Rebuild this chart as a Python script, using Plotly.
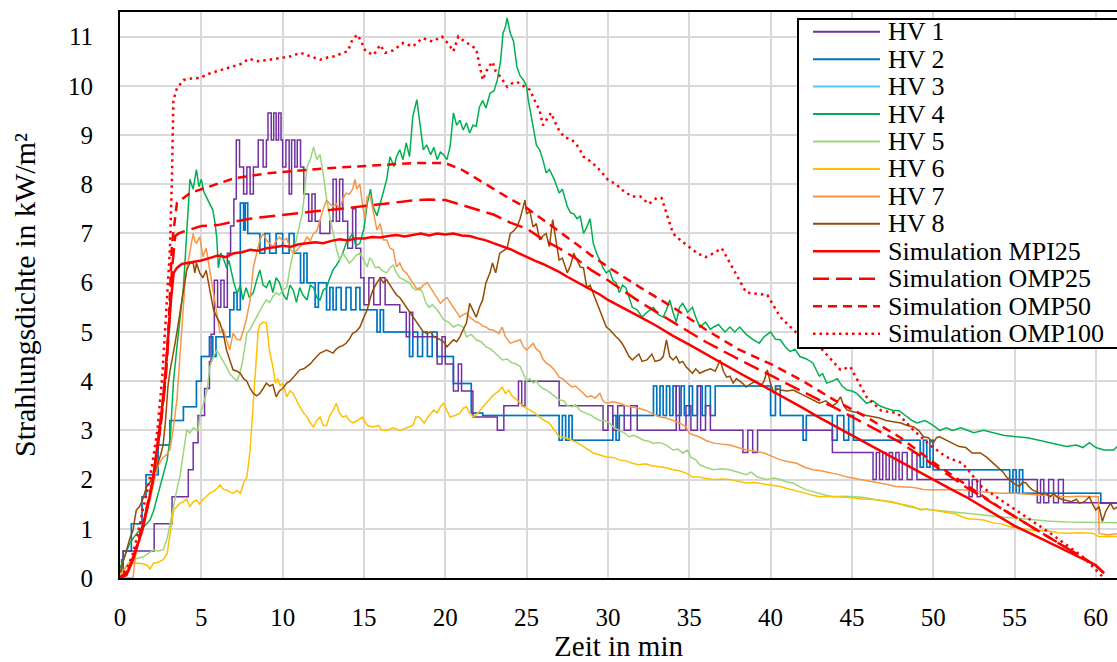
import plotly.graph_objects as go

# ---------------- data ----------------
hv1 = [(0,0.0),(0.2,0.55),(2.1,1.1),(3.2,1.65),(4.2,2.2),(4.5,2.75),(4.8,3.3),(5.2,3.85),(5.5,4.4),(5.6,4.95),
       (5.8,6.05),(6.0,5.5),(6.2,6.05),(6.4,5.5),(6.6,6.6),(6.8,7.15),(7.0,7.7),(7.15,8.9),(7.35,8.35),(7.6,7.8),
       (7.8,8.35),(8.0,7.8),(8.2,8.35),(8.5,8.9),(8.8,8.35),(9.0,8.9),(9.1,9.45),(9.3,8.9),(9.45,9.45),(9.6,8.9),
       (9.75,9.45),(9.9,8.9),(10.0,8.35),(10.2,8.9),(10.4,7.8),(10.55,8.9),(10.75,8.35),(10.9,8.9),(11.1,8.35),
       (11.3,7.8),(11.6,7.25),(11.8,7.8),(12.0,7.25),(12.3,7.0),(12.9,7.25),(13.1,8.1),(13.3,7.25),(13.5,8.1),
       (13.7,7.25),(14.0,6.7),(14.3,7.5),(14.5,6.7),(14.8,6.1),(15.0,5.55),(15.3,6.1),(15.6,5.55),(16.0,6.1),
       (16.3,5.55),(17.2,5.4),(17.6,4.9),(17.8,5.4),(18.0,4.9),(19.5,4.35),(19.8,4.9),(20.0,4.35),(20.5,3.8),
       (20.8,4.35),(21.0,3.8),(21.7,3.27),(23.2,3.0),(23.6,3.5),(24.5,4.0),(24.7,3.5),(24.9,4.0),(27.0,3.5),
       (29.7,3.0),(30.0,3.5),(30.3,3.0),(30.6,3.5),(31.0,3.0),(31.4,3.5),(31.8,3.0),(34.2,3.9),(34.4,3.0),
       (34.8,3.5),(35.1,3.0),(35.5,3.9),(35.7,3.0),(36.0,3.5),(36.3,3.0),(38.3,2.55),(38.6,3.0),(38.9,2.55),
       (39.2,3.0),(43.8,2.55),(46.3,2.0),(46.5,2.55),(46.7,2.0),(46.9,2.55),(47.1,2.0),(47.3,2.55),(47.5,2.0),
       (47.7,2.55),(47.9,2.0),(48.1,2.55),(48.4,2.0),(48.7,2.55),(49.0,2.0),(52.2,1.65),(52.4,2.0),(52.7,1.65),
       (52.9,2.0),(56.4,1.53),(56.6,2.0),(56.8,1.53),(57.1,2.0),(57.4,1.53),(57.7,2.0),(58.0,1.53),(61.5,1.53)]

hv2 = [(0,0.0),(0.1,0.37),(0.2,0.55),(0.7,1.1),(1.35,1.65),(1.6,2.1),(2.35,2.7),(3.07,3.2),(3.9,3.48),(4.7,4.0),
       (5.0,4.5),(5.5,4.9),(5.7,4.5),(5.9,4.9),(6.75,5.45),(7.0,5.8),(7.2,5.45),(7.4,7.62),(7.6,7.07),(7.7,7.62),
       (7.85,7.0),(8.6,6.6),(8.9,7.0),(9.2,6.6),(9.6,7.0),(10.0,6.6),(10.4,7.0),(10.7,6.6),(11.1,6.0),(11.3,6.6),
       (11.5,6.0),(12.0,5.5),(12.2,6.0),(12.7,5.45),(12.9,5.9),(13.1,5.45),(13.3,5.9),(13.6,5.45),(13.9,5.9),
       (14.2,5.45),(14.5,5.9),(14.75,5.45),(15.8,5.0),(16.0,5.45),(16.2,5.0),(17.8,4.5),(18.0,5.0),(18.3,4.5),
       (18.6,5.0),(18.9,4.5),(19.2,5.0),(19.5,4.5),(20.5,3.95),(21.6,3.35),(22.3,3.3),(27.0,2.8),(27.2,3.3),
       (27.4,2.8),(27.6,3.3),(27.8,2.8),(30.3,3.3),(30.5,2.8),(30.7,3.3),(32.8,3.9),(33.0,3.3),(33.2,3.9),
       (33.4,3.3),(33.6,3.9),(33.8,3.3),(34.0,3.9),(34.2,3.3),(34.5,3.9),(34.7,3.3),(35.0,3.9),(35.2,3.3),
       (35.5,3.9),(35.8,3.3),(36.0,3.9),(36.3,3.3),(36.6,3.9),(40.0,3.3),(40.3,3.9),(40.6,3.3),(42.0,2.8),
       (42.2,3.3),(43.8,2.8),(44.1,3.3),(44.5,2.8),(44.8,3.3),(45.1,2.8),(49.2,2.25),(49.4,2.8),(49.6,2.25),
       (49.8,2.8),(50.0,2.2),(54.7,1.72),(54.9,2.2),(55.1,1.72),(55.3,2.2),(55.5,1.72),(60.3,1.52),(61.5,1.52)]

hv3 = list(hv2)  # HV 3 is hidden underneath HV 2 in the reference

hv4 = [(0,0.2),(0.3,0.45),(0.6,0.7),(0.9,0.85),(1.2,0.97),(1.5,1.05),(1.85,1.18),(2.05,1.35),(2.25,1.6),(2.45,1.8),
       (2.65,2.05),(2.9,2.4),(3.1,2.9),(3.28,3.96),(3.5,4.7),(3.7,5.3),(3.9,5.9),(4.1,7.0),(4.3,8.1),(4.5,7.9),
       (4.7,8.3),(4.85,7.95),(5.0,8.1),(5.15,7.85),(5.3,7.75),(5.5,7.6),(5.7,7.48),(5.85,7.2),(5.95,6.9),(6.05,6.3),
       (6.2,6.6),(6.35,6.5),(6.55,6.3),(6.7,6.45),(6.85,6.2),(7.0,6.0),(7.2,5.78),(7.4,5.95),(7.55,5.65),(7.75,5.9),
       (7.95,5.7),(8.2,5.8),(8.4,6.05),(8.6,6.26),(8.8,5.95),(9.0,5.9),(9.2,6.05),(9.4,5.8),(9.6,6.1),(9.8,6.0),
       (10.05,5.75),(10.25,5.65),(10.45,5.95),(10.65,5.85),(10.85,5.6),(11.05,5.9),(11.25,5.75),(11.5,5.65),
       (11.7,5.95),(11.9,5.9),(12.1,5.7),(12.3,5.65),(12.5,5.85),(12.7,5.9),(12.9,6.1),(13.1,6.26),(13.3,6.35),
       (13.5,6.46),(13.7,6.6),(13.9,6.8),(14.1,6.9),(14.3,7.0),(14.5,6.75),(14.75,6.8),(15.0,7.1),(15.2,7.6),
       (15.4,7.9),(15.55,7.55),(15.8,7.36),(16.0,7.6),(16.2,7.82),(16.4,8.1),(16.6,8.56),(16.85,8.36),(17.0,8.56),
       (17.2,8.7),(17.4,8.5),(17.6,8.84),(17.8,8.56),(18.0,9.37),(18.25,9.72),(18.45,9.16),(18.65,8.7),(18.85,8.8),
       (19.1,8.6),(19.3,8.75),(19.5,8.5),(19.7,8.65),(19.9,8.6),(20.1,8.5),(20.3,8.77),(20.5,9.45),(20.7,9.2),
       (20.9,9.3),(21.1,9.1),(21.3,9.25),(21.5,9.04),(21.7,9.2),(21.9,9.18),(22.1,9.57),(22.3,9.7),(22.5,9.55),
       (22.75,9.85),(23.0,9.9),(23.2,10.12),(23.4,10.5),(23.55,11.07),(23.7,11.2),(23.8,11.38),(24.0,11.07),
       (24.2,10.9),(24.4,10.39),(24.6,10.2),(24.8,10.12),(25.0,10.0),(25.1,9.72),(25.25,9.4),(25.4,9.17),(25.6,8.8),
       (25.8,8.7),(26.0,8.5),(26.2,8.23),(26.4,8.3),(26.7,8.1),(27.0,7.82),(27.2,7.9),(27.5,7.55),(27.7,7.42),
       (27.9,7.4),(28.1,7.3),(28.3,7.35),(28.5,7.0),(28.7,7.13),(28.9,7.3),(29.1,6.8),(29.3,6.6),(29.5,6.46),
       (29.7,6.3),(29.9,6.2),(30.1,6.25),(30.3,6.05),(30.5,6.0),(30.7,5.8),(30.9,5.95),(31.1,5.9),(31.3,5.7),
       (31.5,5.5),(31.8,5.45),(32.1,5.3),(32.4,5.4),(32.8,5.5),(33.1,5.35),(33.4,5.3),(33.6,5.45),(33.8,5.65),
       (34.0,5.4),(34.2,5.2),(34.4,5.5),(34.6,5.58),(34.9,5.4),(35.2,5.5),(35.4,5.3),(35.65,5.1),(36.0,5.2),
       (36.3,5.05),(36.5,5.1),(36.8,5.15),(37.2,5.0),(37.5,5.1),(37.8,5.0),(38.1,5.1),(38.5,4.95),(38.9,4.85),
       (39.3,4.77),(39.6,4.9),(40.0,5.0),(40.3,4.85),(40.6,4.84),(40.9,4.7),(41.2,4.6),(41.5,4.65),(41.8,4.5),
       (42.2,4.45),(42.6,4.37),(42.8,4.25),(43.0,4.1),(43.2,4.15),(43.45,3.96),(43.8,4.0),(44.1,4.05),(44.4,3.9),
       (44.7,3.82),(45.0,3.8),(45.3,3.75),(45.6,3.65),(45.9,3.55),(46.3,3.6),(46.7,3.5),(47.1,3.45),(47.5,3.41),
       (47.9,3.4),(48.3,3.3),(48.7,3.2),(49.0,3.15),(49.5,3.2),(50.0,3.1),(50.4,3.0),(50.8,3.05),(51.2,3.0),
       (51.7,3.05),(52.1,3.0),(52.5,2.95),(53.1,3.0),(53.7,2.95),(54.3,2.9),(55.1,2.87),(55.8,2.85),(56.5,2.8),
       (57.2,2.75),(57.7,2.7),(58.2,2.67),(58.8,2.7),(59.2,2.65),(59.6,2.75),(60.0,2.65),(60.5,2.6),(61.1,2.6),(61.4,2.7)]

hv5 = [(0,0.0),(0.1,0.1),(0.5,0.3),(0.8,0.37),(1.1,0.4),(1.43,0.43),(1.75,0.5),(2.05,0.57),(2.35,0.55),(2.65,0.57),
       (2.9,0.8),(3.07,1.1),(3.3,1.45),(3.5,1.8),(3.7,2.1),(3.9,2.6),(4.1,3.0),(4.3,2.95),(4.5,3.05),(4.8,3.0),
       (4.9,3.27),(5.1,3.5),(5.35,3.82),(5.53,4.3),(5.75,4.5),(5.95,4.63),(6.15,4.5),(6.35,4.4),(6.55,4.29),
       (6.75,4.15),(6.95,4.08),(7.2,4.0),(7.4,4.2),(7.55,4.43),(7.8,4.97),(8.0,5.05),(8.2,5.18),(8.4,5.3),(8.6,5.45),
       (8.8,5.55),(9.0,5.65),(9.2,5.6),(9.4,5.72),(9.6,5.8),(9.8,5.75),(10.0,5.85),(10.25,5.9),(10.45,6.3),
       (10.65,6.6),(10.85,6.9),(11.05,7.13),(11.2,7.4),(11.3,7.68),(11.5,8.35),(11.7,8.5),(11.9,8.76),(12.1,8.5),
       (12.3,8.6),(12.5,8.2),(12.7,7.7),(12.9,7.34),(13.1,7.0),(13.3,6.7),(13.5,6.46),(13.7,6.6),(13.9,6.5),
       (14.1,6.4),(14.3,6.46),(14.5,6.55),(14.75,6.6),(15.0,6.45),(15.2,6.32),(15.35,6.5),(15.5,6.45),(15.7,6.3),
       (15.9,6.32),(16.1,6.25),(16.4,6.2),(16.6,6.3),(16.8,6.36),(17.0,6.2),(17.2,6.1),(17.5,6.05),(17.8,6.0),
       (18.0,5.9),(18.2,5.85),(18.4,5.9),(18.6,5.8),(18.8,5.6),(19.0,5.5),(19.2,5.55),(19.5,5.45),(19.7,5.35),
       (19.9,5.25),(20.2,5.2),(20.5,5.1),(20.8,5.15),(21.1,5.1),(21.3,4.9),(21.6,4.95),(21.9,4.84),(22.2,4.8),
       (22.5,4.7),(22.8,4.65),(23.1,4.56),(23.3,4.5),(23.5,4.43),(23.8,4.45),(24.1,4.37),(24.35,4.35),(24.6,4.3),
       (24.8,4.15),(25.0,4.0),(25.2,4.05),(25.4,3.96),(25.6,4.0),(25.8,3.9),(26.0,3.85),(26.2,3.82),(26.5,3.75),
       (26.7,3.7),(27.0,3.62),(27.3,3.6),(27.5,3.5),(27.8,3.48),(28.0,3.52),(28.3,3.4),(28.7,3.35),(29.0,3.3),
       (29.2,3.25),(29.5,3.2),(29.8,3.2),(30.1,3.15),(30.4,3.05),(30.7,3.0),(31.0,2.95),(31.3,2.87),(31.6,2.9),
       (31.9,2.85),(32.2,2.8),(32.5,2.78),(32.8,2.74),(33.2,2.75),(33.6,2.7),(34.0,2.6),(34.3,2.62),(34.6,2.54),
       (34.9,2.6),(35.1,2.45),(35.4,2.4),(35.65,2.3),(36.0,2.25),(36.5,2.2),(37.0,2.22),(37.5,2.2),(38.0,2.15),
       (38.5,2.1),(38.8,2.15),(39.2,2.05),(39.8,2.0),(40.2,2.03),(40.6,2.0),(41.0,1.95),(41.4,1.93),(41.8,1.85),
       (42.2,1.79),(42.6,1.75),(43.0,1.72),(43.4,1.68),(43.8,1.65),(44.5,1.66),(45.2,1.65),(45.9,1.63),(46.3,1.6),
       (46.7,1.58),(47.1,1.56),(47.5,1.55),(48.0,1.5),(48.4,1.45),(48.8,1.43),(49.2,1.4),(50.0,1.38),(50.8,1.35),
       (51.5,1.33),(52.0,1.32),(52.5,1.3),(53.1,1.28),(54.1,1.24),(55.0,1.22),(56.1,1.18),(57.0,1.16),(58.2,1.14),
       (59.2,1.13),(60.2,1.12),(61.4,1.12)]

hv6 = [(0,0.0),(0.2,0.15),(0.4,0.22),(0.6,0.3),(0.9,0.3),(1.2,0.3),(1.5,0.28),(1.7,0.25),(1.85,0.18),(2.05,0.3),
       (2.35,0.32),(2.65,0.37),(2.9,0.5),(3.07,0.91),(3.2,1.2),(3.3,1.38),(3.5,1.45),(3.7,1.52),(3.9,1.55),(4.1,1.6),
       (4.3,1.45),(4.5,1.55),(4.7,1.58),(4.9,1.5),(5.1,1.6),(5.3,1.65),(5.5,1.72),(5.7,1.75),(5.9,1.8),(6.15,1.89),
       (6.35,1.8),(6.55,1.79),(6.75,1.75),(6.95,1.72),(7.2,1.78),(7.4,1.72),(7.6,1.93),(7.8,2.05),(8.0,2.6),
       (8.1,3.1),(8.2,3.68),(8.3,4.2),(8.4,4.63),(8.5,5.04),(8.6,5.15),(8.8,5.2),(9.0,5.18),(9.1,4.9),(9.2,4.6),
       (9.3,4.45),(9.4,4.29),(9.55,3.96),(9.7,4.05),(9.85,3.9),(10.0,3.96),(10.25,3.68),(10.45,3.8),(10.65,3.75),
       (10.85,3.6),(11.05,3.48),(11.3,3.35),(11.5,3.27),(11.7,3.15),(11.9,3.07),(12.1,3.2),(12.3,3.27),(12.5,3.1),
       (12.7,3.1),(12.9,3.3),(13.1,3.4),(13.3,3.55),(13.5,3.35),(13.7,3.27),(13.9,3.3),(14.1,3.2),(14.3,3.15),
       (14.6,3.2),(14.9,3.27),(15.2,3.1),(15.55,3.07),(15.9,3.1),(16.1,3.0),(16.4,3.0),(16.8,3.05),(17.2,3.0),
       (17.6,3.05),(18.0,3.1),(18.2,3.27),(18.4,3.27),(18.7,3.15),(19.0,3.3),(19.3,3.41),(19.5,3.35),(19.7,3.48),
       (19.9,3.55),(20.1,3.4),(20.3,3.27),(20.6,3.3),(20.9,3.35),(21.1,3.45),(21.3,3.48),(21.5,3.35),(21.7,3.27),
       (22.0,3.35),(22.3,3.48),(22.5,3.55),(22.7,3.62),(22.9,3.7),(23.1,3.75),(23.3,3.8),(23.5,3.88),(23.7,3.75),
       (23.9,3.82),(24.1,3.7),(24.4,3.62),(24.6,3.55),(24.8,3.48),(25.0,3.45),(25.2,3.41),(25.5,3.35),(25.8,3.27),
       (26.1,3.2),(26.4,3.15),(26.7,3.0),(27.0,2.87),(27.4,2.85),(27.8,2.8),(28.1,2.75),(28.5,2.67),(28.8,2.6),
       (29.1,2.54),(29.5,2.5),(29.9,2.46),(30.3,2.45),(30.7,2.4),(31.1,2.38),(31.5,2.33),(31.9,2.3),(32.3,2.32),
       (32.7,2.28),(33.2,2.26),(33.6,2.24),(34.0,2.2),(34.4,2.18),(34.8,2.13),(35.2,2.05),(35.65,2.05),(36.0,2.02),
       (36.5,2.0),(37.0,2.01),(37.5,2.0),(38.0,1.96),(38.5,1.93),(39.0,1.94),(39.8,1.9),(40.2,1.88),(40.6,1.86),
       (41.0,1.82),(41.4,1.79),(41.8,1.75),(42.2,1.72),(42.6,1.68),(43.0,1.65),(43.6,1.66),(44.3,1.65),(45.0,1.63),
       (45.7,1.6),(46.2,1.6),(46.7,1.58),(47.3,1.55),(47.9,1.52),(48.4,1.48),(48.8,1.45),(49.2,1.38),(49.6,1.4),
       (50.0,1.38),(50.5,1.35),(51.0,1.32),(51.4,1.3),(51.8,1.24),(52.2,1.2),(52.5,1.2),(53.1,1.18),(53.7,1.12),
       (54.2,1.1),(54.7,1.04),(55.4,1.0),(56.1,0.97),(56.6,0.96),(57.2,0.95),(57.7,0.92),(58.2,0.91),(59.0,0.92),
       (59.8,0.91),(60.2,0.84),(60.8,0.85),(61.4,0.84)]

hv7 = [(0,0.0),(0.8,0.0),(0.9,0.3),(1.0,0.57),(1.2,0.85),(1.43,1.1),(1.65,1.35),(1.85,1.58),(2.05,1.9),(2.25,2.2),
       (2.45,2.35),(2.65,2.45),(2.85,2.5),(3.07,2.6),(3.3,3.1),(3.5,3.62),(3.6,4.1),(3.7,4.63),(3.8,5.1),(3.9,5.65),
       (4.0,6.0),(4.1,6.26),(4.3,6.6),(4.5,7.0),(4.6,6.85),(4.7,6.8),(4.9,6.93),(5.1,6.53),(5.3,6.7),(5.5,6.32),
       (5.7,5.9),(5.95,5.38),(6.15,4.97),(6.35,5.05),(6.55,4.84),(6.75,4.63),(6.95,4.97),(7.2,4.85),(7.4,4.84),
       (7.6,5.04),(7.8,5.3),(8.0,5.65),(8.2,6.32),(8.4,6.6),(8.6,6.87),(8.8,7.0),(9.0,6.87),(9.2,6.8),(9.4,6.73),
       (9.6,6.85),(9.8,6.93),(10.0,6.85),(10.25,6.9),(10.45,6.7),(10.65,6.6),(10.85,6.65),(11.05,6.73),(11.3,6.8),
       (11.5,6.93),(11.7,6.85),(11.9,7.0),(12.1,7.05),(12.3,7.3),(12.5,7.5),(12.7,7.68),(12.9,7.6),(13.1,7.55),
       (13.3,7.6),(13.5,7.48),(13.7,7.7),(13.9,7.82),(14.1,7.8),(14.3,7.9),(14.45,8.1),(14.55,7.9),(14.75,8.0),
       (14.9,7.6),(15.05,7.3),(15.2,7.75),(15.4,7.75),(15.55,7.48),(15.8,7.07),(16.0,7.2),(16.2,6.87),(16.4,6.87),
       (16.6,6.7),(16.8,6.67),(17.0,6.32),(17.2,6.4),(17.4,6.25),(17.6,6.2),(17.8,6.1),(18.0,6.0),(18.2,5.9),
       (18.4,5.85),(18.65,5.95),(18.9,6.0),(19.1,5.9),(19.3,5.8),(19.5,5.7),(19.7,5.58),(19.9,5.65),(20.1,5.7),
       (20.3,5.6),(20.5,5.5),(20.7,5.4),(20.9,5.3),(21.1,5.35),(21.3,5.38),(21.5,5.3),(21.7,5.25),(21.9,5.2),
       (22.1,5.18),(22.3,5.12),(22.5,5.1),(22.7,5.05),(22.9,5.04),(23.1,5.0),(23.3,4.97),(23.5,5.1),(23.7,4.9),
       (24.0,4.77),(24.3,4.8),(24.6,4.84),(24.8,4.7),(25.0,4.63),(25.2,4.7),(25.4,4.77),(25.6,4.65),(25.8,4.6),
       (26.0,4.45),(26.2,4.37),(26.5,4.3),(26.7,4.23),(27.0,4.08),(27.2,4.05),(27.5,3.96),(27.8,3.88),(28.0,3.9),
       (28.3,3.82),(28.5,3.75),(28.7,3.68),(29.0,3.7),(29.2,3.65),(29.5,3.75),(29.7,3.6),(29.9,3.55),(30.3,3.58),
       (30.7,3.55),(31.1,3.5),(31.5,3.48),(31.9,3.45),(32.3,3.41),(32.7,3.35),(33.2,3.27),(33.6,3.25),(34.0,3.2),
       (34.4,3.15),(34.8,3.07),(35.0,2.94),(35.3,2.9),(35.6,2.87),(36.0,2.8),(36.5,2.74),(37.0,2.72),(37.5,2.7),
       (38.0,2.65),(38.5,2.6),(39.0,2.58),(39.6,2.54),(40.1,2.47),(40.6,2.4),(41.1,2.36),(41.6,2.33),(42.1,2.25),
       (42.6,2.2),(43.1,2.18),(43.6,2.15),(44.2,2.1),(44.7,2.05),(45.2,2.02),(45.7,2.0),(46.2,1.96),(46.7,1.93),
       (47.2,1.9),(47.7,1.86),(48.3,1.85),(48.8,1.84),(49.4,1.8),(50.0,1.79),(51.0,1.8),(52.0,1.79),(53.0,1.75),
       (54.1,1.72),(55.0,1.72),(56.0,1.7),(57.0,1.68),(58.2,1.65),(59.0,1.66),(60.0,1.65),(60.15,1.65),(60.2,0.9),
       (60.7,0.88),(61.4,0.9)]

hv8 = [(0,0.1),(0.2,0.35),(0.4,0.57),(0.6,0.8),(0.8,0.97),(1.0,1.38),(1.2,1.45),(1.4,1.6),(1.63,1.85),(1.85,1.95),
       (2.05,2.1),(2.3,2.3),(2.5,2.5),(2.65,2.7),(2.8,3.2),(2.95,3.9),(3.07,4.2),(3.25,4.5),(3.4,4.8),(3.55,5.1),
       (3.7,5.4),(3.9,5.8),(4.1,6.26),(4.3,6.4),(4.5,6.4),(4.6,6.2),(4.7,6.4),(4.9,6.2),(5.1,6.1),(5.3,6.25),
       (5.5,5.9),(5.75,5.45),(5.95,5.3),(6.15,5.18),(6.35,4.97),(6.55,4.63),(6.75,4.43),(6.95,4.23),(7.2,4.2),
       (7.4,4.16),(7.6,4.05),(7.8,4.0),(8.0,3.85),(8.2,3.75),(8.4,3.7),(8.6,3.75),(8.8,3.85),(9.0,3.96),(9.2,3.9),
       (9.4,3.93),(9.6,3.68),(9.8,3.8),(10.0,3.85),(10.25,3.96),(10.45,4.0),(10.65,4.08),(10.85,4.15),(11.05,4.23),
       (11.3,4.25),(11.5,4.3),(11.7,4.35),(11.9,4.43),(12.1,4.5),(12.3,4.57),(12.5,4.6),(12.7,4.63),(12.9,4.6),
       (13.1,4.57),(13.3,4.65),(13.5,4.7),(13.7,4.72),(13.9,4.77),(14.1,4.85),(14.3,4.97),(14.5,5.0),(14.75,5.1),
       (15.0,5.3),(15.2,5.45),(15.4,5.7),(15.55,5.85),(15.8,6.0),(16.0,6.1),(16.2,6.0),(16.4,6.06),(16.6,5.95),
       (16.8,5.85),(17.0,5.75),(17.2,5.7),(17.4,5.6),(17.6,5.5),(17.8,5.4),(18.0,5.3),(18.2,5.2),(18.4,5.1),
       (18.65,5.0),(18.9,4.97),(19.1,5.0),(19.3,4.9),(19.5,4.88),(19.7,4.84),(19.9,4.8),(20.1,4.7),(20.3,4.78),
       (20.5,4.84),(20.7,4.8),(20.9,4.9),(21.1,5.05),(21.3,5.18),(21.5,5.58),(21.7,5.45),(21.9,5.3),(22.1,5.5),
       (22.3,5.65),(22.5,6.0),(22.75,6.2),(22.9,6.4),(23.1,6.2),(23.35,6.6),(23.6,6.65),(23.8,6.7),(24.0,7.0),
       (24.2,7.05),(24.4,7.13),(24.6,7.3),(24.8,7.55),(24.9,7.68),(25.0,7.4),(25.2,7.45),(25.4,7.13),(25.6,7.2),
       (25.8,6.87),(26.0,6.95),(26.2,7.0),(26.4,6.73),(26.6,7.28),(26.8,6.9),(27.0,6.46),(27.2,6.5),(27.5,6.2),
       (27.7,6.35),(27.9,6.6),(28.1,6.45),(28.3,6.32),(28.5,6.3),(28.7,5.9),(28.9,5.95),(29.1,5.78),(29.3,5.6),
       (29.5,5.45),(29.7,5.3),(29.9,5.1),(30.1,5.05),(30.3,4.97),(30.5,4.9),(30.7,4.84),(30.9,4.75),(31.1,4.63),
       (31.3,4.5),(31.5,4.43),(31.7,4.5),(31.9,4.55),(32.1,4.4),(32.4,4.43),(32.7,4.55),(32.9,4.4),(33.2,4.43),
       (33.4,4.5),(33.6,4.84),(33.8,4.5),(34.0,4.43),(34.2,4.5),(34.4,4.37),(34.6,4.4),(34.8,4.29),(35.0,4.23),
       (35.2,4.16),(35.4,4.25),(35.65,4.16),(35.9,4.2),(36.3,4.25),(36.6,4.2),(36.9,4.43),(37.1,4.2),(37.3,4.08),
       (37.5,4.1),(37.7,3.96),(37.9,4.05),(38.1,4.0),(38.3,3.95),(38.5,3.88),(38.8,3.95),(39.1,4.0),(39.4,3.9),
       (39.6,4.0),(39.8,4.23),(40.0,3.95),(40.2,3.75),(40.4,3.85),(40.6,3.82),(41.0,3.8),(41.4,3.82),(41.8,3.75),
       (42.2,3.68),(42.6,3.62),(43.0,3.55),(43.4,3.6),(43.8,3.5),(44.05,3.55),(44.3,3.68),(44.5,3.5),(44.7,3.41),
       (45.1,3.38),(45.5,3.35),(45.9,3.3),(46.3,3.27),(46.7,3.25),(47.1,3.2),(47.5,3.18),(48.0,3.15),(48.4,3.1),
       (48.8,3.07),(49.1,3.0),(49.4,2.87),(49.7,2.85),(50.0,2.74),(50.2,2.85),(50.4,2.87),(50.8,2.8),(51.2,2.74),
       (51.6,2.67),(52.0,2.65),(52.4,2.54),(52.9,2.54),(53.3,2.45),(53.7,2.33),(54.1,2.2),(54.3,2.15),(54.5,2.05),
       (54.7,2.0),(54.9,1.93),(55.1,1.9),(55.3,1.86),(55.5,1.95),(55.7,1.93),(55.9,1.85),(56.1,1.79),(56.4,1.75),
       (56.7,1.7),(56.9,1.72),(57.2,1.65),(57.4,1.72),(57.6,1.65),(57.9,1.6),(58.2,1.58),(58.5,1.55),(58.8,1.6),
       (59.0,1.52),(59.3,1.55),(59.6,1.65),(59.8,1.5),(60.0,1.38),(60.2,1.45),(60.4,1.15),(60.6,1.35),(60.9,1.52),
       (61.1,1.4),(61.4,1.45)]

sim_mpi25 = [(0,0.0),(0.4,0.06),(0.8,0.37),(1.1,0.7),(1.4,1.0),(1.7,1.45),(2.0,1.95),(2.3,2.7),(2.6,3.5),(2.8,4.2),
       (3.0,5.1),(3.15,5.7),(3.3,6.2),(3.5,6.3),(3.8,6.38),(4.1,6.4),(4.5,6.42),(5.0,6.45),(5.5,6.5),(6.0,6.55),
       (6.5,6.52),(7.0,6.6),(7.5,6.62),(8.0,6.67),(8.5,6.65),(9.0,6.7),(9.5,6.72),(10.0,6.75),(10.5,6.73),
       (11.0,6.78),(11.5,6.8),(12.0,6.82),(12.5,6.8),(13.0,6.85),(13.5,6.88),(14.0,6.86),(14.5,6.9),(15.0,6.9),
       (15.5,6.93),(16.0,6.92),(16.5,6.95),(17.0,6.97),(17.5,6.94),(18.0,6.97),(18.5,7.0),(19.0,6.96),(19.5,7.0),
       (20.0,6.98),(20.5,7.0),(21.0,6.96),(21.5,6.95),(22.0,6.9),(22.5,6.86),(23.0,6.8),(23.5,6.74),(24.0,6.68),
       (24.5,6.6),(25.0,6.52),(25.5,6.45),(26.0,6.38),(26.5,6.3),(27.0,6.22),(27.5,6.12),(28.0,6.03),(28.5,5.95),
       (29.0,5.85),(29.5,5.76),(30.0,5.65),(31.0,5.48),(32.0,5.3),(33.0,5.12),(34.0,4.92),(35.0,4.74),(36.0,4.55),
       (37.0,4.37),(38.0,4.18),(39.0,4.0),(40.0,3.82),(41.0,3.63),(42.0,3.45),(43.0,3.26),(44.0,3.08),(45.0,2.9),
       (46.0,2.72),(47.0,2.54),(48.0,2.36),(49.0,2.17),(50.0,1.99),(51.0,1.82),(52.0,1.65),(53.0,1.45),(54.0,1.25),
       (55.0,1.06),(56.0,0.9),(57.0,0.74),(58.0,0.58),(59.0,0.42),(60.0,0.26),(60.5,0.1)]

sim_omp25 = [(0,0.0),(0.5,0.15),(1.0,0.6),(1.5,1.2),(2.0,1.95),(2.5,3.1),(2.8,4.0),(3.0,5.0),(3.2,6.3),(3.4,6.95),
       (3.6,7.0),(4,7.05),(5,7.15),(6,7.17),(7,7.24),(8,7.3),(9,7.34),(10,7.38),(11,7.42),(12,7.45),(13,7.48),
       (14,7.52),(15,7.55),(16,7.6),(17,7.63),(18,7.67),(19,7.69),(20,7.68),(21,7.58),(22,7.48),(23,7.38),
       (24,7.22),(25,7.1),(26,6.88),(27,6.7),(28,6.5),(29,6.25),(30,6.05),(32,5.6),(34,5.2),(36,4.8),(38,4.45),
       (40,4.12),(42,3.78),(44,3.45),(46,3.1),(48,2.75),(50,2.3),(52,1.85),(54,1.45),(56,1.05),(58,0.65),
       (60,0.25),(60.5,0.1)]

sim_omp50 = [(0,0.0),(0.5,0.15),(1.0,0.6),(1.5,1.2),(2.0,1.95),(2.5,3.1),(2.8,4.1),(3.0,5.2),(3.2,6.8),(3.5,7.62),
       (4.3,7.82),(5,7.9),(6,8.02),(7,8.12),(8,8.17),(9,8.22),(10,8.25),(11,8.28),(12,8.31),(13,8.33),(14,8.35),
       (15,8.37),(16,8.4),(17,8.42),(18,8.43),(19,8.43),(20,8.43),(21,8.3),(22,8.1),(23,7.9),(24,7.7),(25,7.52),
       (26,7.28),(27,7.05),(28,6.8),(29,6.55),(30,6.32),(32,5.9),(34,5.5),(36,5.05),(38,4.65),(40,4.35),(42,4.0),
       (44,3.6),(46,3.25),(48,2.85),(50,2.35),(52,1.9),(54,1.45),(56,1.05),(58,0.65),(60,0.25),(60.5,0.1)]

sim_omp100 = [(0,0.0),(0.5,0.25),(0.8,0.5),(1.1,0.9),(1.4,1.38),(1.7,1.8),(2.0,2.35),(2.3,3.0),(2.6,4.1),
       (2.87,5.65),(3.07,6.67),(3.2,8.2),(3.28,9.7),(3.5,9.95),(3.9,10.12),(4.4,10.15),(4.9,10.16),(5.5,10.25),
       (6.0,10.3),(6.5,10.35),(7.0,10.39),(7.5,10.45),(7.9,10.55),(8.5,10.5),(9.0,10.52),(9.5,10.55),(10.0,10.57),
       (10.5,10.6),(11.1,10.67),(11.7,10.6),(12.3,10.53),(12.8,10.58),(13.2,10.6),(13.7,10.67),(14.0,10.7),
       (14.3,10.95),(14.6,11.04),(14.9,10.85),(15.1,10.7),(15.6,10.63),(16.0,10.83),(16.3,10.67),(16.8,10.72),
       (17.4,10.87),(18.0,10.8),(18.6,10.97),(19.2,10.9),(19.8,11.0),(20.2,10.85),(20.5,10.7),(20.8,11.0),
       (21.2,10.9),(21.5,10.83),(21.9,10.75),(22.3,10.12),(22.6,10.35),(22.9,10.49),(23.1,10.3),(23.4,10.18),
       (23.8,9.98),(24.1,10.05),(24.4,10.08),(24.8,10.0),(25.2,9.92),(25.5,9.7),(25.8,9.5),(26.0,9.2),(26.5,9.45),
       (26.9,9.15),(27.3,8.96),(27.8,8.9),(28.2,8.75),(28.5,8.56),(29.0,8.45),(29.5,8.29),(30.0,8.09),(30.5,8.0),
       (31.0,7.85),(31.5,7.75),(32.0,7.75),(32.5,7.6),(33.0,7.72),(33.3,7.72),(33.6,7.4),(34.0,7.0),(34.5,6.85),
       (35.0,6.73),(35.5,6.6),(36.0,6.52),(36.5,6.6),(37.0,6.7),(37.5,6.4),(38.0,6.1),(38.5,5.8),(39.0,5.78),
       (39.8,5.75),(40.6,5.3),(41.6,4.98),(42.4,4.85),(43.2,4.63),(44.3,4.23),(44.9,4.29),(45.9,3.68),(46.8,3.4),
       (47.8,3.35),(48.8,3.0),(49.8,2.7),(50.8,2.46),(51.8,2.33),(53.0,1.85),(54.0,1.62),(55.1,1.38),(56.1,1.15),
       (57.2,0.91),(58.2,0.67),(59.2,0.43),(60.2,0.1),(60.5,0.0)]

x_ticks = [0, 5, 10, 15, 20, 25, 30, 35, 40, 45, 50, 55, 60]
y_ticks = list(range(0, 12))
legend_names = ["HV 1", "HV 2", "HV 3", "HV 4", "HV 5", "HV 6", "HV 7", "HV 8",
                "Simulation MPI25", "Simulation OMP25", "Simulation OMP50", "Simulation OMP100"]
x_title = "Zeit in min"
y_title = "Strahlungsdichte in kW/m²"

# ---------------- styles ----------------
FONT = "Liberation Serif"
RED = "#FF0000"
styles = [
    dict(color="#7030A0", width=1.5, dash="solid", shape="hv"),
    dict(color="#0070C0", width=1.5, dash="solid", shape="hv"),
    dict(color="#5BC5F2", width=1.5, dash="solid", shape="hv"),
    dict(color="#00B050", width=1.5, dash="solid", shape="linear"),
    dict(color="#9BD67A", width=1.5, dash="solid", shape="linear"),
    dict(color="#FFC000", width=1.5, dash="solid", shape="linear"),
    dict(color="#F79646", width=1.5, dash="solid", shape="linear"),
    dict(color="#964B00", width=1.5, dash="solid", shape="linear"),
    dict(color=RED, width=2.5, dash="solid", shape="linear"),
    dict(color=RED, width=2.5, dash="16px,7px", shape="linear"),
    dict(color=RED, width=2.5, dash="9px,6px", shape="linear"),
    dict(color=RED, width=2.5, dash="2.5px,4px", shape="linear"),
]
series = [hv1, hv2, hv3, hv4, hv5, hv6, hv7, hv8, sim_mpi25, sim_omp25, sim_omp50, sim_omp100]
draw_order = [2, 1, 0, 3, 4, 5, 6, 7, 8, 9, 10, 11]

fig = go.Figure()
for i in draw_order:
    xs, ys = zip(*series[i])
    st = styles[i]
    fig.add_trace(go.Scatter(
        x=list(xs), y=list(ys), mode="lines", name=legend_names[i],
        line=dict(color=st["color"], width=st["width"], dash=st["dash"], shape=st["shape"]),
        showlegend=False, hoverinfo="skip"))

# ---------------- layout ----------------
L, R, T, B = 120, 0, 12, 84
W, H = 1117, 662
PW, PH = W - L - R, H - T - B

def px2x(px):
    return (px - L) / PW

def py2y(py):
    return (H - B - py) / PH

fig.update_layout(
    width=W, height=H,
    margin=dict(l=L, r=R, t=T, b=B, pad=0),
    paper_bgcolor="white", plot_bgcolor="white",
    font=dict(family=FONT, size=25, color="black"),
    showlegend=False,
)
fig.update_xaxes(
    range=[0, 61.3], tickvals=x_ticks, ticktext=[str(v) for v in x_ticks],
    showgrid=True, gridcolor="#D9D9D9", gridwidth=2, zeroline=False,
    showline=True, linecolor="black", linewidth=2, mirror=True,
    ticks="outside", ticklen=16, tickcolor="rgba(0,0,0,0)",
    tickfont=dict(family=FONT, size=25, color="black"),
    title=dict(text=x_title, font=dict(family=FONT, size=29, color="black"), standoff=12),
)
fig.update_yaxes(
    range=[0, 11.5], tickvals=y_ticks, ticktext=[str(v) for v in y_ticks],
    showgrid=True, gridcolor="#D9D9D9", gridwidth=2, zeroline=False,
    showline=True, linecolor="black", linewidth=2, mirror=False,
    ticks="outside", ticklen=20, tickcolor="rgba(0,0,0,0)",
    tickfont=dict(family=FONT, size=25, color="black"),
    title=dict(text=y_title, font=dict(family=FONT, size=30, color="black"), standoff=24),
)

# ---------------- legend box (drawn like the reference: large serif text) ----------------
shapes = [dict(type="rect", xref="paper", yref="paper",
               x0=px2x(798), x1=px2x(1130), y0=py2y(348), y1=py2y(19),
               fillcolor="white", line=dict(color="black", width=2), layer="above")]
annotations = []
for k, name in enumerate(legend_names):
    yc = 31.7 + 27.45 * k
    st = styles[k]
    shapes.append(dict(type="line", xref="paper", yref="paper",
                       x0=px2x(813), x1=px2x(880), y0=py2y(yc), y1=py2y(yc),
                       line=dict(color=st["color"], width=st["width"] if k >= 8 else 2, dash=st["dash"]),
                       layer="above"))
    annotations.append(dict(xref="paper", yref="paper", x=px2x(886), y=py2y(yc),
                            xanchor="left", yanchor="middle", showarrow=False,
                            text=name, font=dict(family=FONT, size=26, color="black")))
fig.update_layout(shapes=shapes, annotations=annotations)

fig.write_html("out.html", config={"displayModeBar": False},
               post_script="document.body.style.margin='0px';document.body.style.overflow='hidden';")
